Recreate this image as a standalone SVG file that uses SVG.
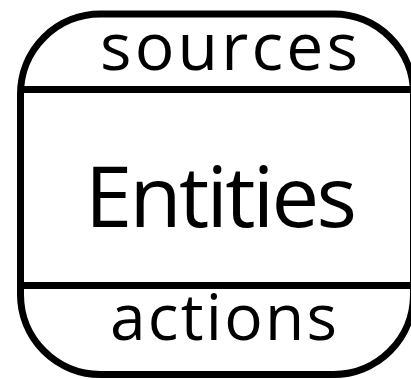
<svg xmlns="http://www.w3.org/2000/svg" width="411" height="379" viewBox="0 0 411 379">
  <style>
    .outline { fill: #ffffff; stroke: #000000; stroke-width: 7; }
    .divider { fill: none; stroke: #000000; stroke-width: 7; }
    .label { font-family: "Open Sans", Lato, "DejaVu Sans", sans-serif; fill: #000000; text-anchor: middle; font-variant-ligatures: none; }
  </style>
  <g id="entities-node">
    <rect class="outline" x="20.5" y="14" width="393" height="360.5" rx="80" ry="80"/>
    <line class="divider" x1="20.5" y1="89.5" x2="413.5" y2="89.5"/>
    <line class="divider" x1="20.5" y1="285.5" x2="413.5" y2="285.5"/>
    <text class="label" x="229" y="70" font-size="66" textLength="258" lengthAdjust="spacing">sources</text>
    <text class="label" x="221" y="227" font-size="85" textLength="272" lengthAdjust="spacing">Entities</text>
    <text class="label" x="223.5" y="340" font-size="64" textLength="227" lengthAdjust="spacing">actions</text>
  </g>
  <g id="connectors"/>
</svg>
